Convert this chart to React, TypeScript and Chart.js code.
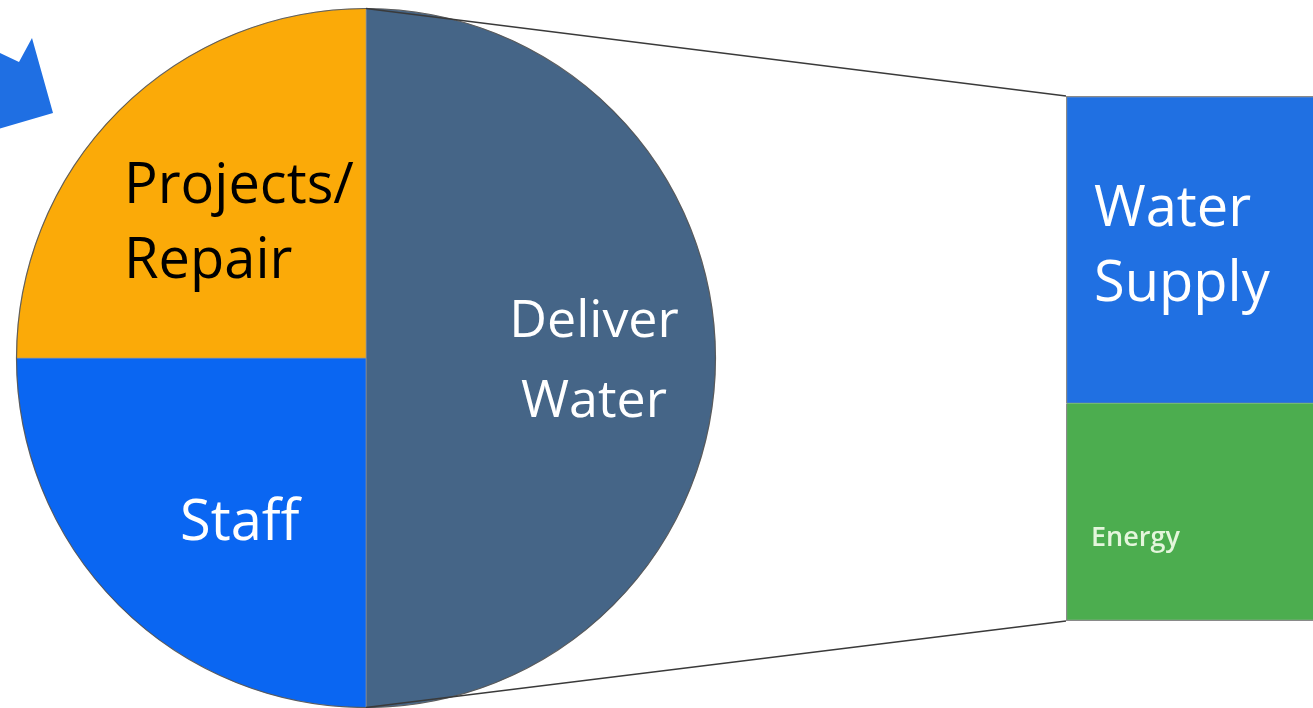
import { useEffect, useRef } from 'react';
import { Chart, registerables } from 'chart.js';

Chart.register(...registerables);

// ---- data ----
const sliceLabels = ['Deliver Water', 'Staff', 'Projects/Repair'];
const sliceValues = [50, 25, 25];
const sliceTextLines = [['Deliver', 'Water'], ['Staff'], ['Projects/', 'Repair']];

const splitLabels = ['Energy', 'Water Supply'];
const splitValues = [41.5, 58.5];
const splitTextLines = [['Energy'], ['Water', 'Supply']];

// ---- styles ----
const sliceColors = ['#456587', '#0A66F2', '#FBAA08'];
const splitColors = ['#4CAD4F', '#2070E2'];
const FONT = '"Open Sans", "Noto Sans", sans-serif';

const sliceLabelStyle = [
  { x: 594, y: 337, size: 52, lh: 80, align: 'center', color: '#ffffff', weight: '400' },
  { x: 180, y: 540, size: 56, lh: 75, align: 'left', color: '#ffffff', weight: '400' },
  { x: 124, y: 203, size: 56, lh: 75, align: 'left', color: '#000000', weight: '400' },
];
const splitLabelStyle = [
  { x: 1091, y: 546, size: 27, lh: 30, align: 'left', color: '#e4f6dc', weight: '600' },
  { x: 1094, y: 226, size: 56, lh: 75, align: 'left', color: '#ffffff', weight: '400' },
];

function drawLines(ctx: CanvasRenderingContext2D, lines: string[], s: any) {
  ctx.save();
  ctx.fillStyle = s.color;
  ctx.font = `${s.weight} ${s.size}px ${FONT}`;
  ctx.textAlign = s.align;
  ctx.textBaseline = 'alphabetic';
  lines.forEach((t, i) => ctx.fillText(t, s.x, s.y + i * s.lh));
  ctx.restore();
}

const arrowPlugin = {
  id: 'arrowDecor',
  afterDraw(chart: any) {
    const ctx = chart.ctx;
    ctx.save();
    ctx.fillStyle = '#1F6FE3';
    ctx.beginPath();
    ctx.moveTo(-2, 52);
    ctx.lineTo(19, 62);
    ctx.lineTo(32, 38);
    ctx.lineTo(53, 113);
    ctx.lineTo(-2, 129);
    ctx.closePath();
    ctx.fill();
    ctx.restore();
  },
};

const pieLabelPlugin = {
  id: 'pieLabels',
  afterDatasetsDraw(chart: any) {
    const ctx = chart.ctx;
    const arc = chart.getDatasetMeta(0).data[0];
    ctx.save();
    ctx.strokeStyle = 'rgba(60,60,60,0.7)';
    ctx.lineWidth = 1.2;
    ctx.beginPath();
    ctx.arc(arc.x, arc.y, arc.outerRadius, 0, Math.PI * 2);
    ctx.stroke();
    ctx.restore();
    sliceTextLines.forEach((lines, i) => drawLines(ctx, lines, sliceLabelStyle[i]));
  },
};

export default function App() {
  const pieRef = useRef<HTMLCanvasElement>(null);
  const barRef = useRef<HTMLCanvasElement>(null);

  useEffect(() => {
    const pie = new Chart(pieRef.current!, {
      type: 'pie',
      data: {
        labels: sliceLabels,
        datasets: [
          {
            data: sliceValues,
            backgroundColor: sliceColors,
            borderColor: 'rgba(150,150,150,0.6)',
            borderWidth: 1,
          },
        ],
      },
      options: {
        responsive: false,
        animation: false,
        layout: { padding: { left: 16, right: 597, top: 8, bottom: 0 } },
        plugins: { legend: { display: false }, tooltip: { enabled: false } },
      },
      plugins: [arrowPlugin, pieLabelPlugin],
    });

    const connectorPlugin = {
      id: 'connectors',
      afterDatasetsDraw(chart: any) {
        const ctx = chart.ctx;
        const arc = pie.getDatasetMeta(0).data[0] as any;
        const bottomBar = chart.getDatasetMeta(0).data[0] as any;
        const topBar = chart.getDatasetMeta(1).data[0] as any;
        const left = topBar.x - topBar.width / 2;
        ctx.save();
        ctx.strokeStyle = '#3a3a3a';
        ctx.lineWidth = 1.5;
        ctx.beginPath();
        ctx.moveTo(arc.x, arc.y - arc.outerRadius);
        ctx.lineTo(left, topBar.y);
        ctx.moveTo(arc.x, arc.y + arc.outerRadius);
        ctx.lineTo(left, bottomBar.base);
        ctx.stroke();
        ctx.restore();
        splitTextLines.forEach((lines, i) => drawLines(ctx, lines, splitLabelStyle[i]));
      },
    };

    const total = splitValues.reduce((a, b) => a + b, 0);
    const bar = new Chart(barRef.current!, {
      type: 'bar',
      data: {
        labels: ['Deliver Water'],
        datasets: splitLabels.map((lab, i) => ({
          label: lab,
          data: [splitValues[i]],
          backgroundColor: splitColors[i],
          borderColor: '#8a8a8a',
          borderSkipped: false,
          borderWidth:
            i === 0
              ? { left: 1.5, bottom: 1.5, top: 0, right: 0 }
              : { left: 1.5, top: 1.5, bottom: 0.8, right: 0 },
          barPercentage: 1,
          categoryPercentage: 1,
        })),
      },
      options: {
        responsive: false,
        animation: false,
        layout: { padding: { left: 1066, right: 0, top: 96, bottom: 87 } },
        scales: {
          x: { display: false, stacked: true },
          y: { display: false, stacked: true, min: 0, max: total },
        },
        plugins: { legend: { display: false }, tooltip: { enabled: false } },
      },
      plugins: [connectorPlugin],
    });

    return () => {
      bar.destroy();
      pie.destroy();
    };
  }, []);

  return (
    <div
      style={{
        position: 'fixed',
        left: 0,
        top: 0,
        width: 1313,
        height: 708,
        overflow: 'hidden',
        background: '#ffffff',
      }}
    >
      <canvas ref={pieRef} width={1313} height={708} style={{ position: 'absolute', left: 0, top: 0 }} />
      <canvas ref={barRef} width={1313} height={708} style={{ position: 'absolute', left: 0, top: 0 }} />
    </div>
  );
}
